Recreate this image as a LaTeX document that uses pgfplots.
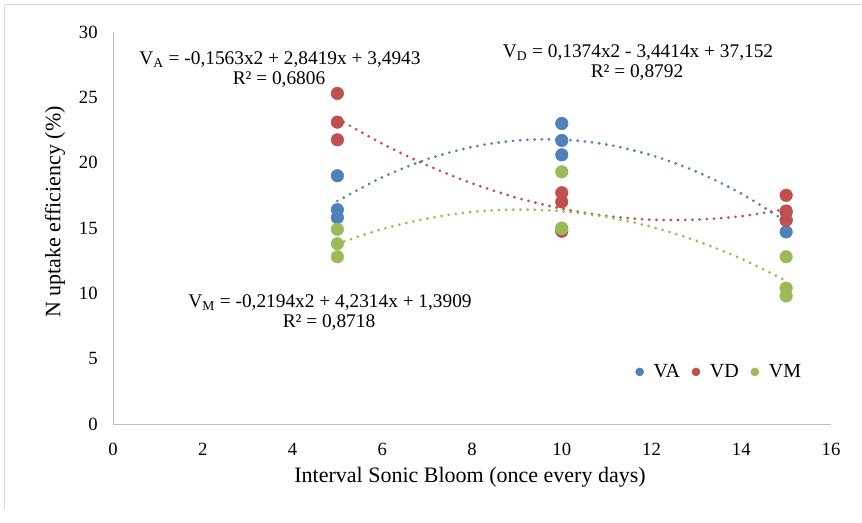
\documentclass[border=0pt]{standalone}
\usepackage{fontspec}
\setmainfont{Liberation Serif}
\usepackage{pgfplots}
\pgfplotsset{compat=1.18}

\definecolor{cA}{HTML}{4F81BD}
\definecolor{cD}{HTML}{C0504D}
\definecolor{cM}{HTML}{9BBB59}
\definecolor{axgray}{HTML}{BFBFBF}

% trendline look (Excel round-dot)
\tikzset{trend/.style={line width=2.3pt, line cap=round, dash pattern=on 0pt off 5.4pt, smooth}}

\begin{document}
\begin{tikzpicture}[x=0.75pt,y=0.75pt]
\path[use as bounding box] (0,0) rectangle (862,522);
\draw[gray!30, line width=0.75pt] (4,12) -- (4,517) -- (862,517);

\begin{axis}[
  at={(84.75pt,73.5pt)}, anchor=south west,
  scale only axis, width=538.5pt, height=294pt,
  xmin=0, xmax=16, ymin=0, ymax=30,
  xtick={0,2,...,16}, ytick={0,5,...,30},
  axis x line*=bottom, axis y line*=left,
  axis line style={draw=axgray, line width=0.75pt},
  major tick length=0pt,
  tick label style={font=\fontsize{14}{16}\selectfont},
  /pgf/number format/assume math mode=true,
  yticklabel style={xshift=-8pt},
  xticklabel style={yshift=-11pt},
  clip=false,
  legend style={draw=none, fill=none, legend columns=3,
    at={(0.845,0.133)}, anchor=center,
    font=\fontsize{15}{17}\selectfont,
    /tikz/every even column/.append style={column sep=7pt},
    /tikz/every odd column/.append style={column sep=5.5pt}},
  legend image post style={mark size=3pt},
]
% trendlines
\addplot[trend, cA, forget plot] coordinates {
  (5,17.06)(6,18.88)(7,20.26)(8,21.20)(9,21.70)(10,21.77)
  (11,21.39)(12,20.57)(13,19.32)(14,17.63)(15,15.50)};
\addplot[trend, cD, forget plot] coordinates {
  (5,23.38)(6,21.45)(7,19.80)(8,18.42)(9,17.31)(10,16.48)
  (11,15.92)(12,15.64)(13,15.64)(14,15.90)(15,16.45)};
\addplot[trend, cM, forget plot] coordinates {
  (5,13.80)(6,14.92)(7,15.73)(8,16.23)(9,16.41)(10,16.28)
  (11,15.84)(12,15.09)(13,14.02)(14,12.65)(15,10.96)};

% observations
\addplot[only marks, mark=*, mark size=4.7pt, color=cA] coordinates {
  (5,19.0)(5,16.4)(5,15.8)(10,23.0)(10,21.7)(10,20.6)(15,16.2)(15,15.6)(15,14.7)};
\addlegendentry{VA}
\addplot[only marks, mark=*, mark size=4.7pt, color=cD] coordinates {
  (5,25.3)(5,23.1)(5,21.75)(10,17.7)(10,17.0)(10,14.75)(15,17.5)(15,16.3)(15,15.6)};
\addlegendentry{VD}
\addplot[only marks, mark=*, mark size=4.7pt, color=cM] coordinates {
  (5,14.9)(5,13.8)(5,12.8)(10,19.3)(10,14.95)(10,15.0)(15,12.8)(15,10.4)(15,9.8)};
\addlegendentry{VM}
\end{axis}

\node[font=\fontsize{16.5}{19}\selectfont] at (470,45) {Interval Sonic Bloom (once every days)};
\node[rotate=90, font=\fontsize{16.5}{19}\selectfont] at (55,310) {N uptake efficiency (\%)};

\begin{scope}[font=\fontsize{14.5}{17}\selectfont]
\node at (280,462) {V\textsubscript{A} = -0,1563x2 + 2,8419x + 3,4943};
\node at (279,442) {R² = 0,6806};
\node at (638,469) {V\textsubscript{D} = 0,1374x2 - 3,4414x + 37,152};
\node at (637,449) {R² = 0,8792};
\node at (330,219) {V\textsubscript{M} = -0,2194x2 + 4,2314x + 1,3909};
\node at (329,199) {R² = 0,8718};
\end{scope}
\end{tikzpicture}
\end{document}
